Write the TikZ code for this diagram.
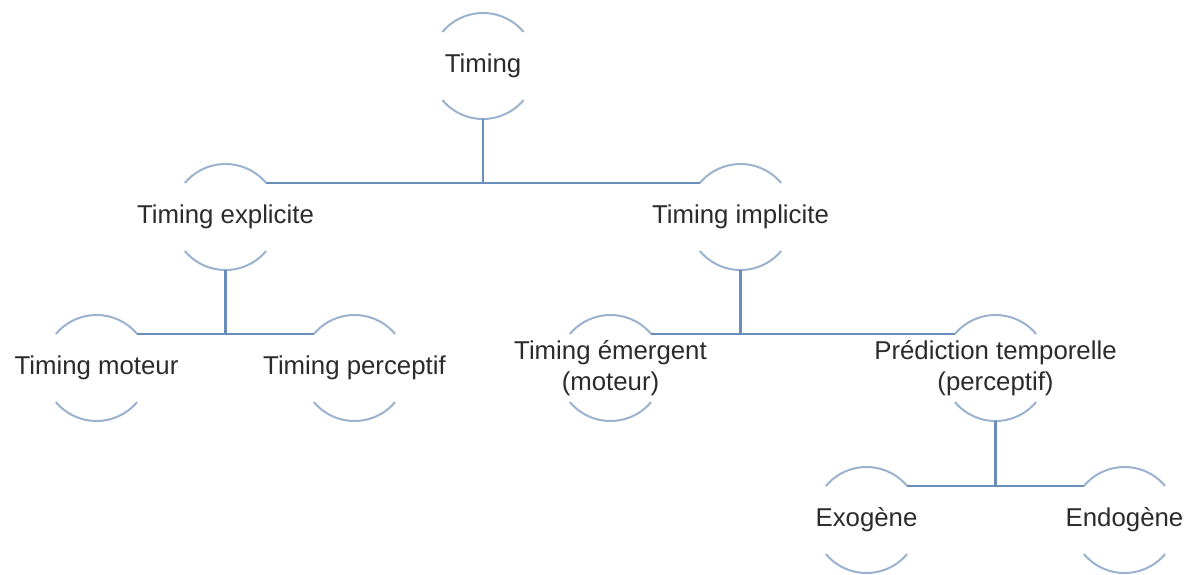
\documentclass[tikz,border=0pt]{standalone}
\usepackage{fontspec}
\setmainfont{Liberation Sans}
\usetikzlibrary{positioning}
\definecolor{rimBlue}{HTML}{9AB2CF}
\definecolor{linkBlue}{HTML}{6A8EBB}
\definecolor{textDark}{HTML}{2B2B2B}

\begin{document}
\begin{tikzpicture}[
      node distance=75.5pt and 128.75pt, on grid,
      topic/.style={
        align=center, text=textDark, inner sep=0pt,
        font=\fontsize{12.9pt}{15.5pt}\selectfont
      },
      rim/.style={draw=rimBlue, line width=1pt},
      link/.style={draw=linkBlue, line width=1.2pt}
    ]
      \useasboundingbox (-241.5pt,33pt) rectangle (354.5pt,-254pt);

      \node[topic] (root) {Timing};
      \node[topic, below left=of root] (expl) {Timing explicite};
      \node[topic, below right=of root] (impl) {Timing implicite};
      \node[topic, below left=75.5pt and 64.5pt of expl] (mot) {Timing moteur};
      \node[topic, below right=75.5pt and 64.5pt of expl] (perc) {Timing perceptif};
      \node[topic, below left=75.5pt and 65pt of impl] (emer) {Timing émergent\\(moteur)};
      \node[topic, below right=75.5pt and 127.5pt of impl] (pred) {Prédiction temporelle\\(perceptif)};
      \node[topic, below left=76pt and 64.5pt of pred] (exo) {Exogène};
      \node[topic, below right=76pt and 64.5pt of pred] (endo) {Endogène};

      % arcs above and below each label
      \foreach \n in {root,expl,impl,mot,perc,emer,pred,exo,endo}{
        \coordinate (\n-bot) at ([yshift=-26.5pt]\n.center);
        \coordinate (\n-l) at ([shift={(140:26.5pt)}]\n.center);
        \coordinate (\n-r) at ([shift={(40:26.5pt)}]\n.center);
        \draw[rim] (\n-r) arc[start angle=40, end angle=140, radius=26.5pt];
        \draw[rim] ([shift={(220:26.5pt)}]\n.center) arc[start angle=220, end angle=320, radius=26.5pt];
      }

      \draw[link] (expl-r) -- (impl-l);
      \draw[link] (root-bot) -- (root-bot |- expl-r);
      \draw[link] (mot-r) -- (perc-l);
      \draw[link] (expl-bot) -- (expl-bot |- mot-r);
      \draw[link] (emer-r) -- (pred-l);
      \draw[link] (impl-bot) -- (impl-bot |- emer-r);
      \draw[link] (exo-r) -- (endo-l);
      \draw[link] (pred-bot) -- (pred-bot |- exo-r);
    \end{tikzpicture}
\end{document}
